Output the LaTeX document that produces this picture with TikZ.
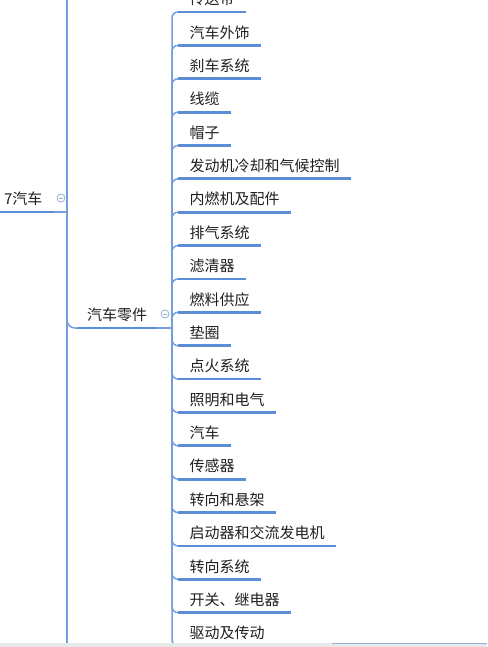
\documentclass[tikz,border=0pt]{standalone}
\usepackage{fontspec}
\setmainfont{Noto Sans CJK SC}
\usepackage{xcolor}
\usetikzlibrary{positioning}
\definecolor{mmblue}{RGB}{91,141,214}
\definecolor{mmlink}{RGB}{115,157,220}
\definecolor{mmmark}{RGB}{150,175,215}
\tikzstyle{topic} = [rectangle, inner xsep=11.5pt, inner ysep=0pt, outer sep=0pt,
                     minimum height=26pt, font=\fontsize{15}{18}\selectfont,
                     text=black!88]
\tikzstyle{uline} = [mmblue, line width=2.8pt]
\tikzstyle{link}  = [mmlink, line width=1.5pt, rounded corners=6pt]
\tikzstyle{fold}  = [circle, draw=mmmark, fill=white, line width=0.8pt,
                     minimum size=8pt, inner sep=0pt,
                     path picture={\draw[mmmark, line width=0.8pt]
                       ([xshift=-2.2pt]path picture bounding box.center) --
                       ([xshift=2.2pt]path picture bounding box.center);}]

\begin{document}
\begin{tikzpicture}[x=1pt, y=-1pt, node distance=7.37pt]
\useasboundingbox (0,0) rectangle (487,647);
\clip (0,0) rectangle (487,647);
% Parent topic
\node[topic, anchor=south east] (car) at (54,212) {7汽车};
\coordinate (carhub) at (67,212);
\coordinate (cartop) at (67,-20);
\coordinate (carbot) at (67,670);
% Sub topic
\node[topic, inner xsep=10pt, anchor=south west] (parts) at (77,328) {汽车零件};
\coordinate (partshub) at (172,328);
% Children
\node[topic, anchor=south west] (belt) at (178,12) {传送带};
\node[topic, below=of belt.south west, anchor=north west] (exterior) {汽车外饰};
\node[topic, below=of exterior.south west, anchor=north west] (brake) {刹车系统};
\node[topic, below=of brake.south west, anchor=north west] (cable) {线缆};
\node[topic, below=of cable.south west, anchor=north west] (cap) {帽子};
\node[topic, below=of cap.south west, anchor=north west] (cooling) {发动机冷却和气候控制};
\node[topic, below=of cooling.south west, anchor=north west] (engine) {内燃机及配件};
\node[topic, below=of engine.south west, anchor=north west] (exhaust) {排气系统};
\node[topic, below=of exhaust.south west, anchor=north west] (filter) {滤清器};
\node[topic, below=of filter.south west, anchor=north west] (fuel) {燃料供应};
\node[topic, below=of fuel.south west, anchor=north west] (gasket) {垫圈};
\node[topic, below=of gasket.south west, anchor=north west] (ignition) {点火系统};
\node[topic, below=of ignition.south west, anchor=north west] (lighting) {照明和电气};
\node[topic, below=of lighting.south west, anchor=north west] (auto) {汽车};
\node[topic, below=of auto.south west, anchor=north west] (sensor) {传感器};
\node[topic, below=of sensor.south west, anchor=north west] (suspension) {转向和悬架};
\node[topic, below=of suspension.south west, anchor=north west] (starter) {启动器和交流发电机};
\node[topic, below=of starter.south west, anchor=north west] (steering) {转向系统};
\node[topic, below=of steering.south west, anchor=north west] (switch) {开关、继电器};
\node[topic, below=of switch.south west, anchor=north west] (drive) {驱动及传动};
% Connectors
\draw[link] (cartop) -- (carbot);
\draw[link] (car.south east) -- (carhub);
\draw[link, rounded corners=8pt] (carhub) |- ([xshift=10pt]parts.south west);
\draw[link] (parts.south east) -- (partshub);
\foreach \n in {belt,exterior,brake,cable,cap,cooling,engine,exhaust,filter,fuel,
  gasket,ignition,lighting,auto,sensor,suspension,starter,steering,switch,drive}
  \draw[link] (partshub) |- ([xshift=10pt]\n.south west);
% Underlines
\draw[uline] (car.south west) -- (car.south east);
\draw[uline] (parts.south west) -- (parts.south east);
\foreach \n in {belt,exterior,brake,cable,cap,cooling,engine,exhaust,filter,fuel,
  gasket,ignition,lighting,auto,sensor,suspension,starter,steering,switch,drive}
  \draw[uline] (\n.south west) -- (\n.south east);
% Fold markers
\node[fold] (carfold) at (61,198) {};
\node[fold] (partsfold) at (165,314) {};
% Window edge
\fill[black!9] (0,643) rectangle (487,647);
\draw[mmmark, line width=0.8pt] (332,643.4) -- (487,643.4);
\end{tikzpicture}
\end{document}
